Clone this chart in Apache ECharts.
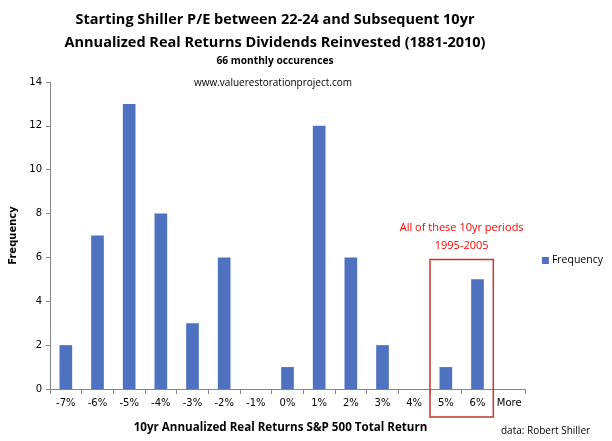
<!DOCTYPE html>
<html><head><meta charset="utf-8">
<script src="https://cdn.jsdelivr.net/npm/echarts@6/dist/echarts.min.js"></script>
<style>html,body{margin:0;padding:0;background:#fff}#c{width:612px;height:441px}</style>
</head><body><div id="c"></div>
<script>
const categories = ['-7%','-6%','-5%','-4%','-3%','-2%','-1%','0%','1%','2%','3%','4%','5%','6%','More'];
const frequency = [2,7,13,8,3,6,0,1,12,6,2,0,1,5,0];
const yTicks = {min:0, max:14, interval:2};
const boxCats = ['5%','6%'];
const boxTopValue = 5.9;

const chart = echarts.init(document.getElementById('c'), null, {renderer:'canvas'});
const tickFont = {fontFamily:'DejaVu Sans', fontSize:10, color:'#000'};
chart.setOption({
  animation:false,
  backgroundColor:'#fff',
  title:[
    {text:'Starting Shiller P/E between 22-24 and Subsequent 10yr\nAnnualized Real Returns Dividends Reinvested (1881-2010)',
     left:270, textAlign:'center', top:3, textStyle:{fontFamily:'Open Sans', fontWeight:'bold', fontSize:14.5, lineHeight:23, color:'#000'}},
    {text:'66 monthly occurences', left:270, textAlign:'center', top:51, textStyle:{fontFamily:'Open Sans', fontWeight:'bold', fontSize:10.2, color:'#000'}},
    {text:'www.valuerestorationproject.com', left:268, textAlign:'center', top:73, textStyle:{fontFamily:'Open Sans', fontWeight:'normal', fontSize:10, color:'#000'}},
    {text:'data: Robert Shiller', left:496, top:421, textStyle:{fontFamily:'Open Sans', fontWeight:'normal', fontSize:10, color:'#000'}}
  ],
  legend:{right:4, top:250, orient:'vertical', itemWidth:7, itemHeight:7, icon:'rect', itemGap:4,
    textStyle:{fontFamily:'Open Sans', fontSize:10.5, color:'#000', padding:[0,0,0,-2]}, data:['Frequency']},
  grid:{left:50, right:87, top:82, bottom:52},
  xAxis:{type:'category', data:categories,
    name:'10yr Annualized Real Returns S&P 500 Total Return', nameLocation:'middle', nameGap:33,
    nameTextStyle:{fontFamily:'Open Sans', fontWeight:'bold', fontSize:11.6, color:'#000', padding:[0,14,0,0]},
    axisLine:{lineStyle:{color:'#868686', width:1}},
    axisTick:{show:true, length:5, lineStyle:{color:'#868686'}},
    axisLabel:Object.assign({margin:9, interval:0}, tickFont)},
  yAxis:{type:'value', min:yTicks.min, max:yTicks.max, interval:yTicks.interval,
    name:'Frequency', nameLocation:'middle', nameGap:31, nameRotate:90,
    nameTextStyle:{fontFamily:'DejaVu Sans', fontWeight:'bold', fontSize:10, color:'#000'},
    axisLine:{show:true, lineStyle:{color:'#868686', width:1}},
    axisTick:{show:true, length:4, lineStyle:{color:'#868686'}},
    splitLine:{show:false},
    axisLabel:Object.assign({margin:8}, tickFont)},
  series:[{name:'Frequency', type:'bar', data:frequency, barCategoryGap:'60%',
    itemStyle:{color:'#4E72C0'}}]
});

const pL = chart.convertToPixel({xAxisIndex:0}, boxCats[0]);
const pR = chart.convertToPixel({xAxisIndex:0}, boxCats[1]);
const band = pR - pL;
const yTop = chart.convertToPixel({yAxisIndex:0}, boxTopValue);
const left = pL - band/2, right = pR + band/2;
chart.setOption({graphic:[
  {type:'rect', shape:{x:left, y:yTop, width:right-left, height:417-yTop}, style:{fill:'none', stroke:'#C0392B', lineWidth:1.5}, z:100},
  {type:'text', x:(left+right)/2, y:yTop-41, style:{text:'All of these 10yr periods\n1995-2005', align:'center', verticalAlign:'top', fill:'#FF0000', font:'11px "Open Sans"', lineHeight:18}, z:100}
]});
</script></body></html>
